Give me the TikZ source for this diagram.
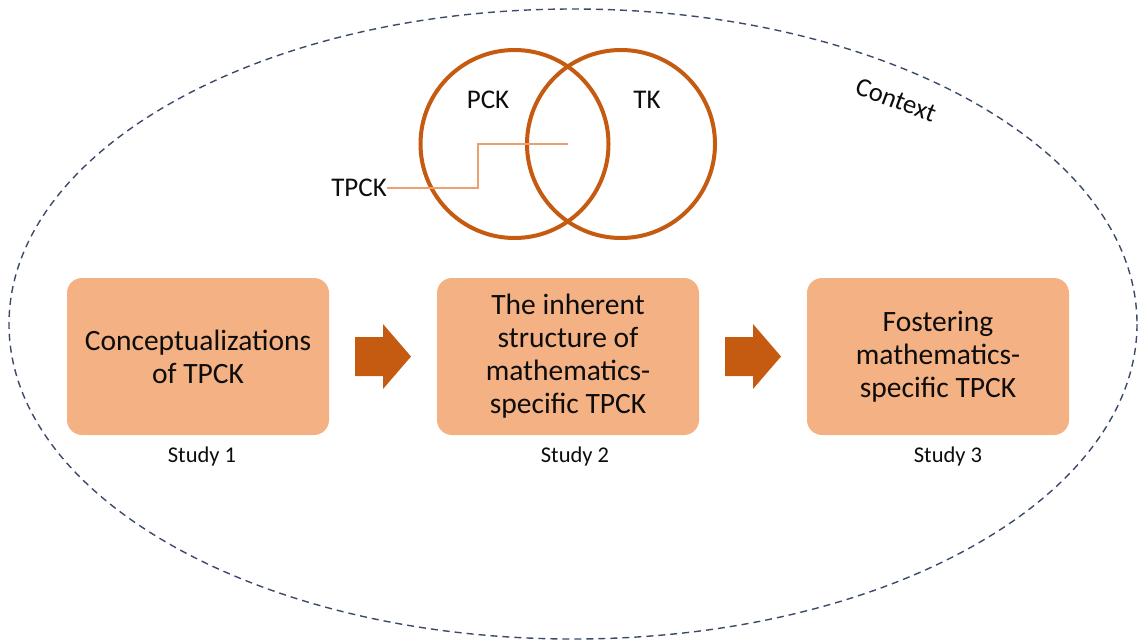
\documentclass[tikz,border=0pt]{standalone}
\usepackage{fontspec}
\setmainfont{Carlito}
\definecolor{boxfill}{HTML}{F4B183}
\definecolor{darkorange}{HTML}{C55A11}
\definecolor{leadercol}{HTML}{EBA06E}
\definecolor{ctxline}{HTML}{3B4A6B}
\definecolor{txt}{HTML}{0D0D0D}
\tikzset{
  stepbox/.style={draw=none, fill=boxfill, rounded corners=15pt, minimum width=262pt, minimum height=157pt, inner sep=0pt, align=center, text=txt, font=\fontsize{29.5}{33}\selectfont},
  studylabel/.style={text=txt, font=\fontsize{22.5}{26}\selectfont, inner sep=0pt},
  venn/.style={circle, draw=darkorange, line width=4pt, minimum size=188pt, inner sep=0pt},
  vennlabel/.style={text=txt, font=\fontsize{27}{30}\selectfont, inner sep=0pt},
  blockarrow/.style={fill=darkorange, draw=none},
}
\begin{document}
\begin{tikzpicture}[x=1pt, y=-1pt]
\useasboundingbox (0,0) rectangle (1138,640);
% context ellipse
\draw[ctxline, line width=1.4pt, dash pattern=on 7pt off 5pt] (573,324) ellipse [x radius=564, y radius=315];
\node[text=txt, font=\fontsize{26.5}{30}\selectfont, rotate=-20.5, inner sep=0pt] (ctx) at (896,100) {Context};
% venn
\node[venn] (pck) at (514.5,144) {};
\node[venn] (tk) at (621,144) {};
\node[vennlabel] (pcklab) at (488,100) {PCK};
\node[vennlabel] (tklab) at (647,100) {TK};
\node[vennlabel, anchor=east] (tpck) at (387,188) {TPCK};
\coordinate (tpckend) at (568,144);
\draw[leadercol, line width=1.3pt] (tpck.east) -- ++(2,0) -| (478,144) -- (tpckend);
% boxes
\node[stepbox] (b1) at (198,356.5) {Conceptualizations\\of TPCK};
\node[stepbox] (b2) at (568,356.5) {The inherent\\structure of\\mathematics-\\specific TPCK};
\node[stepbox] (b3) at (938,356.5) {Fostering\\mathematics-\\specific TPCK};
% study labels
\node[studylabel] (s1) at (202,456) {Study 1};
\node[studylabel] (s2) at (575,456) {Study 2};
\node[studylabel] (s3) at (948,456) {Study 3};
% block arrows
\path (b1.east) -- (b2.west) coordinate[pos=0.5] (m1);
\path (b2.east) -- (b3.west) coordinate[pos=0.5] (m2);
\foreach \m in {m1,m2}{
  \fill[blockarrow] ([shift={(-28,-19.5)}]\m) -- ([shift={(0,-19.5)}]\m) -- ([shift={(0,-32.5)}]\m) -- ([shift={(28,0)}]\m) -- ([shift={(0,32.5)}]\m) -- ([shift={(0,19.5)}]\m) -- ([shift={(-28,19.5)}]\m) -- cycle;
}
\end{tikzpicture}
\end{document}
